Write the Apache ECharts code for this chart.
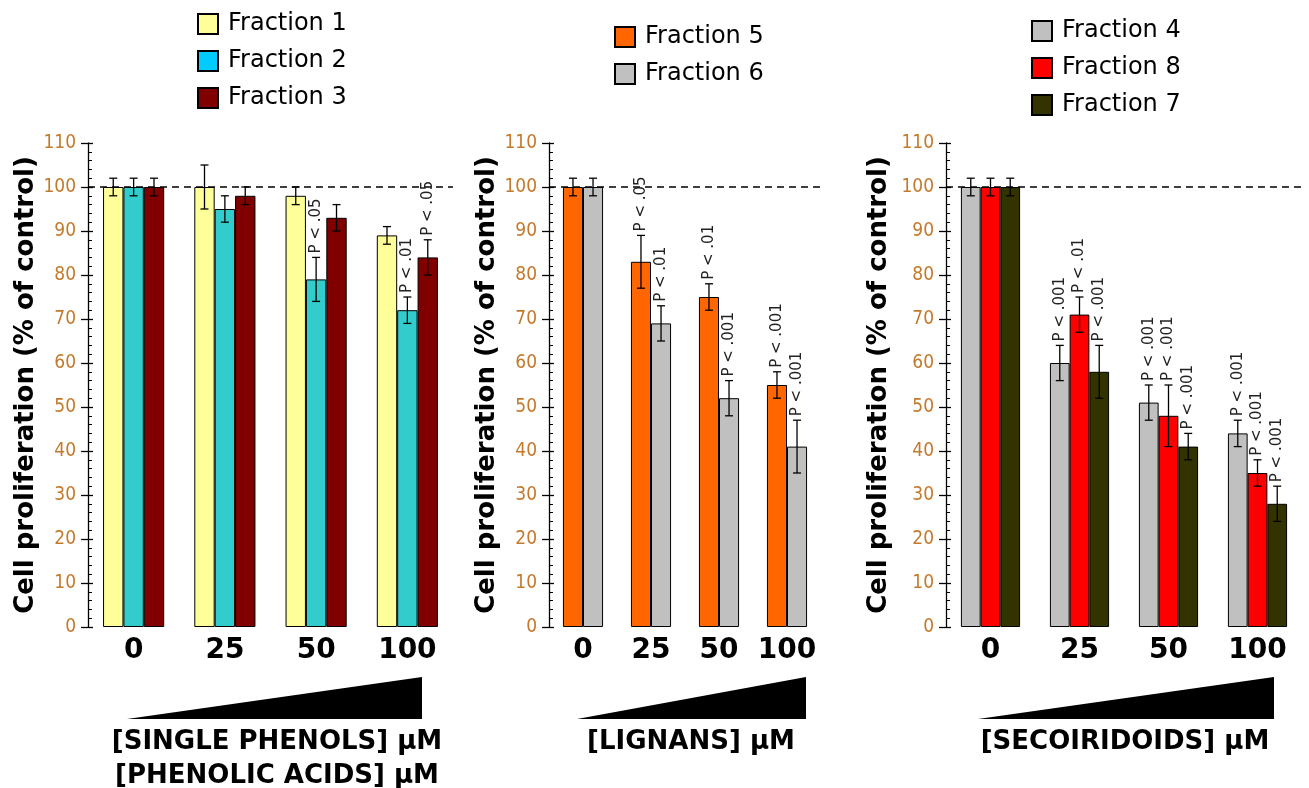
<!DOCTYPE html>
<html><head><meta charset="utf-8">
<script src="https://cdn.jsdelivr.net/npm/echarts@6/dist/echarts.min.js"></script>
<style>html,body{margin:0;padding:0;background:#fff}#c{width:1309px;height:788px}</style>
</head><body><div id="c"></div>
<script>
const categories = ['0', '25', '50', '100'];
const yTicks = {min: 0, max: 110, interval: 10};

const f1 = [100, 100, 98, 89];  const f1Err = [2, 5, 2, 2];  const f1P = ['', '', '', ''];
const f2 = [100, 95, 79, 72];   const f2Err = [2, 3, 5, 3];  const f2P = ['', '', 'P < .05', 'P < .01'];
const f3 = [100, 98, 93, 84];   const f3Err = [2, 2, 3, 4];  const f3P = ['', '', '', 'P < .05'];
const f5 = [100, 83, 75, 55];   const f5Err = [2, 6, 3, 3];  const f5P = ['', 'P < .05', 'P < .01', 'P < .001'];
const f6 = [100, 69, 52, 41];   const f6Err = [2, 4, 4, 6];  const f6P = ['', 'P < .01', 'P < .001', 'P < .001'];
const f4 = [100, 60, 51, 44];   const f4Err = [2, 4, 4, 3];  const f4P = ['', 'P < .001', 'P < .001', 'P < .001'];
const f8 = [100, 71, 48, 35];   const f8Err = [2, 4, 7, 3];  const f8P = ['', 'P < .01', 'P < .001', 'P < .001'];
const f7 = [100, 58, 41, 28];   const f7Err = [2, 6, 3, 4];  const f7P = ['', 'P < .001', 'P < .001', 'P < .001'];

const yName = 'Cell proliferation (% of control)';

const panels = [
  {grid: {left: 88, width: 365}, gap: 0.33, nameGap: 48, legend: {left: 197, top: 12},
   series: [
     {name: 'Fraction 1', v: f1, e: f1Err, p: f1P, color: '#ffff99'},
     {name: 'Fraction 2', v: f2, e: f2Err, p: f2P, color: '#33cccc', legendColor: '#00ccff'},
     {name: 'Fraction 3', v: f3, e: f3Err, p: f3P, color: '#800000'}]},
  {grid: {left: 549, width: 272}, gap: 0.41, nameGap: 48, legend: {left: 614, top: 25},
   series: [
     {name: 'Fraction 5', v: f5, e: f5Err, p: f5P, color: '#ff6600'},
     {name: 'Fraction 6', v: f6, e: f6Err, p: f6P, color: '#c0c0c0'}]},
  {grid: {left: 946, width: 356}, gap: 0.335, nameGap: 54, legend: {left: 1031, top: 19},
   series: [
     {name: 'Fraction 4', v: f4, e: f4Err, p: f4P, color: '#c0c0c0'},
     {name: 'Fraction 8', v: f8, e: f8Err, p: f8P, color: '#ff0000'},
     {name: 'Fraction 7', v: f7, e: f7Err, p: f7P, color: '#333300'}]}
];

const grids = [], xAxes = [], yAxes = [], series = [], legends = [];
const tickColor = '#c47a2c';

function makeRender(idx, n, gapRatio, pArr) {
  return function (params, api) {
    const cat = api.value(0), v = api.value(1), e = api.value(2);
    const band = api.size([1, 0])[0];
    const group = band * (1 - gapRatio);
    const bw = group / n;
    const c = api.coord([cat, v]);
    const x = c[0] - group / 2 + bw * (idx + 0.5);
    const yHi = api.coord([cat, v + e])[1];
    const yLo = api.coord([cat, v - e])[1];
    const cap = 4;
    const ls = {stroke: '#000', lineWidth: 1.3};
    const children = [
      {type: 'line', shape: {x1: x, y1: yHi, x2: x, y2: yLo}, style: ls},
      {type: 'line', shape: {x1: x - cap, y1: yHi, x2: x + cap, y2: yHi}, style: ls},
      {type: 'line', shape: {x1: x - cap, y1: yLo, x2: x + cap, y2: yLo}, style: ls}
    ];
    const t = pArr[params.dataIndex];
    if (t) {
      children.push({type: 'text', x: x, y: yHi - 4, rotation: Math.PI / 2,
        style: {text: t, fontSize: 15, fontFamily: 'DejaVu Sans', fill: '#222',
                align: 'left', verticalAlign: 'middle'}});
    }
    return {type: 'group', children: children};
  };
}

panels.forEach((pn, gi) => {
  grids.push({left: pn.grid.left, width: pn.grid.width, top: 143, height: 484, containLabel: false});
  xAxes.push({type: 'category', gridIndex: gi, data: categories,
    axisLine: {show: false}, axisTick: {show: false},
    axisLabel: {interval: 0, hideOverlap: false, fontSize: 28, fontWeight: 'bold', fontFamily: 'DejaVu Sans', color: '#000', margin: 10}});
  const yi = yAxes.length;
  yAxes.push({type: 'value', gridIndex: gi, position: 'left', min: yTicks.min, max: yTicks.max, interval: yTicks.interval,
    name: yName, nameLocation: 'middle', nameGap: pn.nameGap,
    nameTextStyle: {fontSize: 26, fontWeight: 'bold', fontFamily: 'DejaVu Sans', color: '#000'},
    axisLine: {show: true, lineStyle: {color: '#000', width: 1.3}},
    axisTick: {show: true, inside: false, length: 7, lineStyle: {color: '#000', width: 1.3}},
    axisLabel: {fontSize: 19, fontFamily: "'Liberation Sans Narrow','DejaVu Sans Condensed','Roboto Condensed',sans-serif", color: tickColor, margin: 12},
    splitLine: {show: false}});
  yAxes.push({type: 'value', gridIndex: gi, position: 'left', min: yTicks.min, max: yTicks.max, interval: yTicks.interval,
    axisLine: {show: false}, axisLabel: {show: false}, splitLine: {show: false},
    axisTick: {show: true, inside: true, length: 5, lineStyle: {color: '#000', width: 1.3}},
    minorTick: {show: true, splitNumber: 5, length: 4, lineStyle: {color: '#000', width: 1}},
    minorSplitLine: {show: false}});
  const n = pn.series.length;
  pn.series.forEach((s, si) => {
    const bar = {type: 'bar', name: s.name, xAxisIndex: gi, yAxisIndex: yi, data: s.v,
      barGap: '0%', barCategoryGap: (pn.gap * 100) + '%',
      itemStyle: {color: s.color, borderColor: '#000', borderWidth: 1}, z: 2};
    if (si === 0) {
      bar.markLine = {silent: true, symbol: 'none', label: {show: false},
        lineStyle: {color: '#000', type: [7, 5], width: 1.6}, data: [{yAxis: 100}]};
    }
    series.push(bar);
    series.push({type: 'custom', name: s.name + ' err', xAxisIndex: gi, yAxisIndex: yi, z: 5,
      renderItem: makeRender(si, n, pn.gap, s.p), encode: {x: 0, y: [1]},
      data: s.v.map((v, i) => [i, v, s.e[i]])});
  });
  legends.push({orient: 'vertical', left: pn.legend.left, top: pn.legend.top, padding: 0,
    itemWidth: 20, itemHeight: 20, itemGap: 13, icon: 'rect',
    textStyle: {fontSize: 24, fontFamily: 'DejaVu Sans', color: '#000', padding: [0, 0, 0, 5]},
    data: pn.series.map(s => s.legendColor ? {name: s.name, itemStyle: {color: s.legendColor}} : s.name)});
});

const wedge = (x1, x2) => ({type: 'polygon', shape: {points: [[x1, 719], [x2, 719], [x2, 677]]}, style: {fill: '#000'}});
const label = (text, x, y) => ({type: 'text', x: x, y: y,
  style: {text: text, fontSize: 26, fontWeight: 'bold', fontFamily: 'DejaVu Sans', fill: '#000', align: 'center', verticalAlign: 'middle'}});

const chart = echarts.init(document.getElementById('c'), null, {renderer: 'canvas'});
chart.setOption({
  animation: false,
  backgroundColor: '#fff',
  grid: grids, xAxis: xAxes, yAxis: yAxes, series: series, legend: legends,
  graphic: [
    wedge(127, 422), wedge(577, 806), wedge(978, 1274),
    label('[SINGLE PHENOLS] μM', 277, 742),
    label('[PHENOLIC ACIDS] μM', 277, 776),
    label('[LIGNANS] μM', 691, 742),
    label('[SECOIRIDOIDS] μM', 1125, 742)
  ]
});
</script></body></html>
